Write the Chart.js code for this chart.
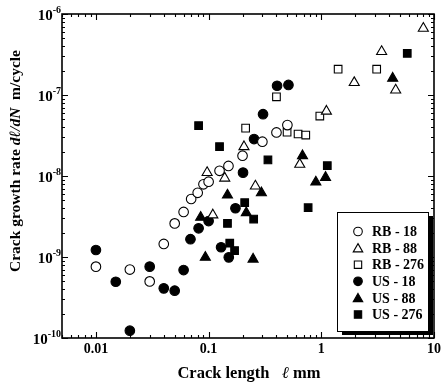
<!DOCTYPE html>
<html><head><meta charset="utf-8">
<script src="https://cdn.jsdelivr.net/npm/chart.js@4.4.0/dist/chart.umd.min.js"></script>
<style>html,body{margin:0;padding:0;background:#fff;}canvas{display:block;}</style>
</head><body>
<canvas id="c" width="442" height="389"></canvas>
<script>
// ---- data ----
const seriesNames = ['RB - 18','RB - 88','RB - 276','US - 18','US - 88','US - 276'];
const rb18X  = [0.01,0.02,0.03,0.04,0.05,0.06,0.07,0.08,0.09,0.1,0.125,0.15,0.2,0.3,0.4,0.5];
const rb18Y  = [7.6e-10,7.0e-10,5.0e-10,1.45e-9,2.6e-9,3.6e-9,5.2e-9,6.2e-9,7.9e-9,8.5e-9,1.16e-8,1.33e-8,1.78e-8,2.65e-8,3.45e-8,4.25e-8];
const rb88X  = [0.097,0.109,0.139,0.206,0.26,0.644,1.11,1.96,3.43,4.57,8.04];
const rb88Y  = [1.1e-8,3.3e-9,9.4e-9,2.3e-8,7.5e-9,1.39e-8,6.3e-8,1.42e-7,3.43e-7,1.15e-7,6.66e-7];
const rb276X = [0.213,0.40,0.497,0.622,0.728,0.97,1.41,3.10];
const rb276Y = [3.9e-8,9.5e-8,3.47e-8,3.3e-8,3.2e-8,5.5e-8,2.08e-7,2.08e-7];
const us18X  = [0.01,0.015,0.02,0.03,0.04,0.05,0.06,0.069,0.0815,0.1,0.129,0.151,0.173,0.202,0.253,0.304,0.405,0.511];
const us18Y  = [1.22e-9,4.95e-10,1.23e-10,7.6e-10,4.1e-10,3.84e-10,6.9e-10,1.66e-9,2.26e-9,2.78e-9,1.32e-9,9.9e-10,4.0e-9,1.1e-8,2.86e-8,5.8e-8,1.3e-7,1.33e-7];
const us88X  = [0.085,0.0935,0.147,0.216,0.248,0.294,0.681,0.894,1.09,4.30];
const us88Y  = [3.09e-9,9.9e-10,5.8e-9,3.52e-9,9.4e-10,6.2e-9,1.78e-8,8.4e-9,9.6e-9,1.61e-7];
const us276X = [0.0815,0.125,0.147,0.154,0.170,0.209,0.251,0.336,0.764,1.13,5.79];
const us276Y = [4.18e-8,2.3e-8,2.6e-9,1.48e-9,1.2e-9,4.68e-9,2.94e-9,1.58e-8,4.06e-9,1.34e-8,3.27e-7];
const xTickLabels = ['0.01','0.1','1','10'];
const yTickExponents = ['-10','-9','-8','-7','-6'];
const xMin = 0.005, xMax = 10, yMin = 1e-10, yMax = 1e-6;

const FONT = '"Liberation Serif","Times New Roman",serif';
const pts = (xs, ys) => xs.map((x, i) => ({x: x, y: ys[i]}));

const styles = [
  {style:'circle',   fill:'#fff', r:4.8},
  {style:'triangle', fill:'#fff', r:5.8},
  {style:'rect',     fill:'#fff', r:5.4},
  {style:'circle',   fill:'#000', r:4.8},
  {style:'triangle', fill:'#000', r:5.8},
  {style:'rect',     fill:'#000', r:5.4}
];
const allData = [pts(rb18X,rb18Y), pts(rb88X,rb88Y), pts(rb276X,rb276Y),
                 pts(us18X,us18Y), pts(us88X,us88Y), pts(us276X,us276Y)];

const datasets = allData.map((d, i) => ({
  label: seriesNames[i],
  data: d,
  showLine: false,
  pointStyle: styles[i].style,
  pointRadius: styles[i].r,
  pointHoverRadius: styles[i].r,
  backgroundColor: styles[i].fill,
  borderColor: '#000',
  borderWidth: 1.1
}));

function drawMarker(ctx, style, fill, x, y, r) {
  ctx.save();
  ctx.beginPath();
  if (style === 'circle') {
    ctx.arc(x, y, r, 0, Math.PI * 2);
  } else if (style === 'triangle') {
    ctx.moveTo(x, y - r);
    ctx.lineTo(x + r * Math.sin(2 * Math.PI / 3), y - r * Math.cos(2 * Math.PI / 3));
    ctx.lineTo(x + r * Math.sin(4 * Math.PI / 3), y - r * Math.cos(4 * Math.PI / 3));
    ctx.closePath();
  } else {
    const s = r * Math.SQRT1_2;
    ctx.rect(x - s, y - s, 2 * s, 2 * s);
  }
  ctx.fillStyle = fill; ctx.fill();
  ctx.lineWidth = 1.1; ctx.strokeStyle = '#000'; ctx.stroke();
  ctx.restore();
}

function drawRuns(ctx, runs, cx, cy) {
  let total = 0;
  runs.forEach(r => { ctx.font = r.font; r.w = ctx.measureText(r.t).width; total += r.w; });
  let x = cx - total / 2;
  ctx.textAlign = 'left'; ctx.textBaseline = 'middle';
  runs.forEach(r => { ctx.font = r.font; ctx.fillText(r.t, x, cy); x += r.w; });
}

const framePlugin = {
  id: 'frame',
  beforeDatasetsDraw(chart) {
    const ctx = chart.ctx, a = chart.chartArea;
    const xs = chart.scales.x, ys = chart.scales.y;
    ctx.save();
    ctx.strokeStyle = '#000';
    ctx.lineWidth = 1.6;
    ctx.strokeRect(a.left, a.top, a.right - a.left, a.bottom - a.top);
    ctx.lineWidth = 1.1;
    ctx.beginPath();
    for (let d = -3; d <= 1; d++) {
      for (let m = 1; m <= 9; m++) {
        const v = m * Math.pow(10, d);
        if (v < xMin * 0.999 || v > xMax * 1.001) continue;
        const px = Math.round(xs.getPixelForValue(v)) + 0.5;
        const len = m === 1 ? 6 : 3;
        ctx.moveTo(px, a.bottom); ctx.lineTo(px, a.bottom - len);
        ctx.moveTo(px, a.top); ctx.lineTo(px, a.top + len);
      }
    }
    for (let d = -10; d <= -6; d++) {
      for (let m = 1; m <= 9; m++) {
        const v = m * Math.pow(10, d);
        if (v < yMin * 0.999 || v > yMax * 1.001) continue;
        const py = Math.round(ys.getPixelForValue(v)) + 0.5;
        const len = m === 1 ? 6 : 3;
        ctx.moveTo(a.left, py); ctx.lineTo(a.left + len, py);
        ctx.moveTo(a.right, py); ctx.lineTo(a.right - len, py);
      }
    }
    ctx.stroke();

    // tick labels
    ctx.fillStyle = '#000';
    ctx.font = 'bold 14px ' + FONT;
    ctx.textAlign = 'center'; ctx.textBaseline = 'middle';
    xTickLabels.forEach(t => {
      ctx.fillText(t, xs.getPixelForValue(parseFloat(t)), a.bottom + 11);
    });
    yTickExponents.forEach(e => {
      const py = ys.getPixelForValue(Math.pow(10, parseInt(e)));
      ctx.font = 'bold 10px ' + FONT;
      const sw = ctx.measureText(e).width;
      ctx.textAlign = 'left'; ctx.textBaseline = 'middle';
      ctx.fillText(e, a.left - 1 - sw, py - 4);
      ctx.font = 'bold 15px ' + FONT;
      ctx.textAlign = 'right';
      ctx.fillText('10', a.left - 1 - sw, py + 2.5);
    });

    // axis titles
    const B = 'bold 16.5px ' + FONT, BI = 'italic bold 16.5px ' + FONT;
    drawRuns(ctx, [{t:'Crack length   ', font:B}, {t:'\u2113', font:BI}, {t:' mm', font:B}],
             (a.left + a.right) / 2 + 1, 374);
    const B2 = 'bold 15.5px ' + FONT, BI2 = 'italic bold 15.5px ' + FONT;
    ctx.save();
    ctx.translate(15.5, 161);
    ctx.rotate(-Math.PI / 2);
    drawRuns(ctx, [{t:'Crack growth rate ', font:B2}, {t:'d\u2113/dN', font:BI2}, {t:'  m/cycle', font:B2}], 0, 0);
    ctx.restore();
    ctx.restore();
  },
  afterDatasetsDraw(chart) {
    const ctx = chart.ctx;
    const bx = 337, by = 212, bw = 91, bh = 119;
    ctx.save();
    ctx.fillStyle = '#000';
    ctx.fillRect(bx + 5, by + 4, bw, bh);
    ctx.fillStyle = '#fff';
    ctx.fillRect(bx, by, bw, bh);
    ctx.strokeStyle = '#000'; ctx.lineWidth = 1;
    ctx.strokeRect(bx + 0.5, by + 0.5, bw, bh);
    ctx.font = 'bold 14px ' + FONT;
    ctx.textAlign = 'left'; ctx.textBaseline = 'middle';
    seriesNames.forEach((n, i) => {
      const y = 231.5 + i * 16.6;
      const s = styles[i];
      drawMarker(ctx, s.style, s.fill, 358, s.style === 'triangle' ? y + 1 : y, s.style === 'circle' ? 4.3 : (s.style === 'triangle' ? 5.5 : 5.2));
      ctx.fillStyle = '#000';
      ctx.fillText(n, 372, y + 1);
    });
    ctx.restore();
  }
};

new Chart(document.getElementById('c'), {
  type: 'scatter',
  data: { datasets: datasets },
  options: {
    responsive: false,
    animation: false,
    events: [],
    layout: { padding: { left: 0, right: 8, top: 14, bottom: 0 } },
    plugins: { legend: { display: false }, tooltip: { enabled: false } },
    scales: {
      x: {
        type: 'logarithmic', min: xMin, max: xMax,
        grid: { display: false }, border: { display: false },
        ticks: { display: false },
        afterFit(s) { s.height = 51; }
      },
      y: {
        type: 'logarithmic', min: yMin, max: yMax,
        grid: { display: false }, border: { display: false },
        ticks: { display: false },
        afterFit(s) { s.width = 62; }
      }
    }
  },
  plugins: [framePlugin]
});
</script>
</body></html>
